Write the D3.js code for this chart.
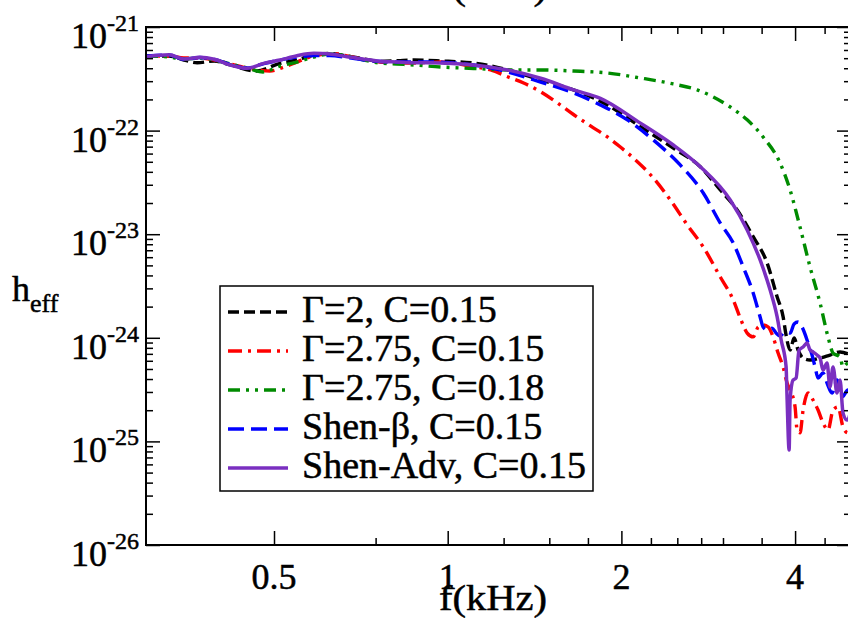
<!DOCTYPE html>
<html><head><meta charset="utf-8">
<script src="https://cdn.jsdelivr.net/npm/d3@7"></script>
<style>
body{margin:0;background:#fff}
svg{display:block}
text{font-family:"Liberation Serif","Times New Roman",serif;fill:#000;stroke:#000;stroke-width:0.5px}
</style>
</head><body>
<svg id="c" width="848" height="619"></svg>
<script>
// ---------- data ----------
const xMajorTicks = [0.5, 1, 2, 4];
const xMinorTicks = [0.75, 1.25, 1.5, 1.75, 2.25, 2.5, 2.75, 3, 3.5, 4.5];
const yDecadeExponents = [-21, -22, -23, -24, -25, -26];
const seriesLabels = ["Γ=2, C=0.15", "Γ=2.75, C=0.15", "Γ=2.75, C=0.18", "Shen-β, C=0.15", "Shen-Adv, C=0.15"];

// [f (kHz), h_eff]
const gamma2_C015 = [[0.30,5.25e-22],[0.329,5.25e-22],[0.349,4.80e-22],[0.368,4.52e-22],[0.394,4.70e-22],[0.420,4.30e-22],[0.466,3.76e-22],[0.512,4.46e-22],[0.548,4.80e-22],[0.586,5.37e-22],[0.625,5.55e-22],[0.669,5.25e-22],[0.716,4.91e-22],[0.763,4.65e-22],[0.873,4.80e-22],[0.973,4.70e-22],[1.109,4.49e-22],[1.270,3.85e-22],[1.449,3.08e-22],[1.652,2.47e-22],[1.891,1.77e-22],[2.158,1.09e-22],[2.460,6.79e-23],[2.740,4.48e-23],[2.968,2.67e-23],[3.175,1.71e-23],[3.384,9.46e-24],[3.578,5.27e-24],[3.723,2.49e-24],[3.813,1.60e-24],[3.859,1.06e-24],[3.921,7.62e-25],[3.984,9.96e-25],[4.048,7.62e-25],[4.130,6.38e-25],[4.246,6.11e-25],[4.419,6.38e-25],[4.598,6.82e-25],[4.786,7.29e-25],[5.0,6.82e-25]];

const gamma275_C015 = [[0.30,5.25e-22],[0.329,5.25e-22],[0.349,5.02e-22],[0.372,5.02e-22],[0.394,4.80e-22],[0.420,4.39e-22],[0.449,4.02e-22],[0.492,3.76e-22],[0.520,4.11e-22],[0.548,4.59e-22],[0.570,5.02e-22],[0.603,5.43e-22],[0.635,5.55e-22],[0.669,5.25e-22],[0.716,4.86e-22],[0.763,4.59e-22],[0.816,4.49e-22],[0.873,4.49e-22],[0.973,4.59e-22],[1.109,4.14e-22],[1.187,3.85e-22],[1.270,3.31e-22],[1.354,2.88e-22],[1.449,2.37e-22],[1.550,1.85e-22],[1.652,1.43e-22],[1.768,1.11e-22],[1.891,8.68e-23],[1.992,6.94e-23],[2.098,5.44e-23],[2.272,3.49e-23],[2.431,2.14e-23],[2.601,1.23e-23],[2.773,7.52e-24],[2.968,3.86e-24],[3.125,2.32e-24],[3.214,1.55e-24],[3.304,1.11e-24],[3.384,1.02e-24],[3.452,1.27e-24],[3.521,1.33e-24],[3.593,1.27e-24],[3.664,1.02e-24],[3.738,7.13e-25],[3.813,5.23e-25],[3.875,3.66e-25],[3.921,3.13e-25],[4.000,2.15e-25],[4.032,1.29e-25],[4.080,1.21e-25],[4.130,2.01e-25],[4.213,2.93e-25],[4.297,2.51e-25],[4.384,2.01e-25],[4.472,1.51e-25],[4.562,1.29e-25],[4.654,2.01e-25],[4.748,2.15e-25],[4.843,1.38e-25],[4.94,1.21e-25],[5.0,1.3e-25]];

const gamma275_C018 = [[0.30,5.25e-22],[0.329,5.13e-22],[0.349,4.91e-22],[0.372,5.02e-22],[0.394,4.80e-22],[0.420,4.39e-22],[0.449,4.02e-22],[0.4785,3.68e-22],[0.512,4.20e-22],[0.548,4.59e-22],[0.586,5.13e-22],[0.625,5.49e-22],[0.669,5.25e-22],[0.716,4.80e-22],[0.763,4.49e-22],[0.816,4.39e-22],[0.873,4.30e-22],[0.973,4.11e-22],[1.109,3.98e-22],[1.270,3.85e-22],[1.449,3.85e-22],[1.652,3.76e-22],[1.891,3.60e-22],[2.158,3.22e-22],[2.460,2.82e-22],[2.707,2.47e-22],[2.886,2.11e-22],[3.088,1.69e-22],[3.304,1.27e-22],[3.521,8.68e-23],[3.767,4.87e-23],[3.921,2.67e-23],[4.080,1.17e-23],[4.246,4.83e-24],[4.419,2.17e-24],[4.562,1.02e-24],[4.654,7.13e-25],[4.786,6.53e-25],[4.843,5.23e-25],[4.94,5.71e-25],[5.0,5.5e-25]];

const shenBeta_C015 = [[0.30,5.25e-22],[0.329,5.37e-22],[0.349,4.86e-22],[0.372,5.08e-22],[0.394,4.86e-22],[0.420,4.35e-22],[0.449,4.02e-22],[0.480,4.44e-22],[0.512,4.80e-22],[0.548,5.13e-22],[0.586,5.31e-22],[0.625,5.31e-22],[0.669,5.08e-22],[0.716,4.80e-22],[0.816,4.59e-22],[0.931,4.59e-22],[1.109,4.30e-22],[1.270,3.68e-22],[1.449,2.94e-22],[1.652,2.31e-22],[1.839,1.77e-22],[2.048,1.27e-22],[2.272,8.12e-23],[2.529,4.66e-23],[2.773,2.50e-23],[2.968,1.28e-23],[3.125,8.23e-24],[3.252,4.83e-24],[3.384,2.71e-24],[3.479,1.59e-24],[3.521,1.27e-24],[3.578,1.19e-24],[3.650,1.24e-24],[3.709,1.11e-24],[3.767,1.04e-24],[3.844,1.14e-24],[3.921,1.11e-24],[3.984,1.36e-24],[4.048,1.42e-24],[4.113,1.27e-24],[4.213,8.91e-25],[4.280,6.82e-25],[4.332,5.23e-25],[4.384,4.09e-25],[4.472,4.57e-25],[4.544,3.66e-25],[4.636,2.93e-25],[4.729,3.91e-25],[4.824,2.68e-25],[4.94,3.13e-25],[5.0,2.8e-25]];

const shenAdv_C015 = [[0.30,5.17e-22],[0.329,5.40e-22],[0.349,4.91e-22],[0.372,5.10e-22],[0.394,4.88e-22],[0.420,4.30e-22],[0.449,3.99e-22],[0.480,4.46e-22],[0.512,4.80e-22],[0.548,5.28e-22],[0.586,5.57e-22],[0.625,5.49e-22],[0.669,5.17e-22],[0.716,4.88e-22],[0.763,4.67e-22],[0.816,4.59e-22],[0.873,4.52e-22],[0.931,4.52e-22],[1.0,4.46e-22],[1.109,4.30e-22],[1.270,3.85e-22],[1.449,3.20e-22],[1.652,2.47e-22],[1.839,2.05e-22],[2.158,1.18e-22],[2.460,7.26e-23],[2.740,4.48e-23],[3.088,2.14e-23],[3.304,1.10e-23],[3.479,5.64e-24],[3.621,2.89e-24],[3.723,1.60e-24],[3.784,9.52e-25],[3.859,5.26e-25],[3.875,2.51e-25],[3.906,8.26e-26],[3.921,2.51e-25],[3.968,3.91e-25],[4.016,4.09e-25],[4.064,7.62e-25],[4.130,8.15e-25],[4.196,8.91e-25],[4.246,7.62e-25],[4.297,7.29e-25],[4.366,6.82e-25],[4.419,6.38e-25],[4.472,4.89e-25],[4.544,5.71e-25],[4.598,3.35e-25],[4.654,5.23e-25],[4.729,2.93e-25],[4.786,3.91e-25],[4.843,1.88e-25],[4.920,1.61e-25],[5.0,2.0e-25]];

// ---------- layout ----------
const L = 146, R = 851, T = 27, B = 545;
const svg = d3.select("#c");

const x = d3.scaleLog().domain([0.3, 5]).range([L, R]);
const y = d3.scaleLog().domain([1e-26, 1e-21]).range([B, T]);

const series = [
  {name: seriesLabels[0], data: gamma2_C015,   color: "#000000", dash: "11,5",         width: 3.4},
  {name: seriesLabels[1], data: gamma275_C015, color: "#ff0000", dash: "14,6,3,6",     width: 3.4},
  {name: seriesLabels[2], data: gamma275_C018, color: "#008b00", dash: "12,6,3,6,3,6", width: 3.4},
  {name: seriesLabels[3], data: shenBeta_C015, color: "#0000ff", dash: "16,7",         width: 3.4},
  {name: seriesLabels[4], data: shenAdv_C015,  color: "#7a2fc0", dash: null,           width: 3.5}
];

svg.append("defs").append("clipPath").attr("id","clip")
  .append("rect").attr("x",L).attr("y",T).attr("width",R-L).attr("height",B-T);

const line = d3.line().x(d => x(d[0])).y(d => y(d[1])).curve(d3.curveMonotoneX);
const gLines = svg.append("g").attr("clip-path","url(#clip)");
series.forEach(s => {
  gLines.append("path").datum(s.data)
    .attr("d", line)
    .attr("fill","none")
    .attr("stroke", s.color)
    .attr("stroke-width", s.width)
    .attr("stroke-dasharray", s.dash)
    .attr("stroke-linejoin","round");
});

const yMinor = [];
yDecadeExponents.slice(1).forEach(e => { for (let k = 2; k <= 9; k++) yMinor.push(k * Math.pow(10, e)); });
const yMajor = yDecadeExponents.map(e => Math.pow(10, e));

function styleAxis(g){ g.select(".domain").remove(); g.selectAll("line").attr("stroke","#000").attr("stroke-width",1.5); g.selectAll("text").remove(); }

svg.append("g").attr("transform",`translate(0,${B})`).call(d3.axisBottom(x).tickValues(xMajorTicks).tickSize(-14).tickFormat("")).call(styleAxis);
svg.append("g").attr("transform",`translate(0,${B})`).call(d3.axisBottom(x).tickValues(xMinorTicks).tickSize(-7).tickFormat("")).call(styleAxis);
svg.append("g").attr("transform",`translate(0,${T})`).call(d3.axisTop(x).tickValues(xMajorTicks).tickSize(-14).tickFormat("")).call(styleAxis);
svg.append("g").attr("transform",`translate(0,${T})`).call(d3.axisTop(x).tickValues(xMinorTicks).tickSize(-7).tickFormat("")).call(styleAxis);
svg.append("g").attr("transform",`translate(${L},0)`).call(d3.axisLeft(y).tickValues(yMajor).tickSize(-14).tickFormat("")).call(styleAxis);
svg.append("g").attr("transform",`translate(${L},0)`).call(d3.axisLeft(y).tickValues(yMinor).tickSize(-7).tickFormat("")).call(styleAxis);
svg.append("g").attr("transform",`translate(${R},0)`).call(d3.axisRight(y).tickValues(yMajor).tickSize(-14).tickFormat("")).call(styleAxis);
svg.append("g").attr("transform",`translate(${R},0)`).call(d3.axisRight(y).tickValues(yMinor).tickSize(-7).tickFormat("")).call(styleAxis);

svg.append("rect").attr("x",L).attr("y",T).attr("width",R-L).attr("height",B-T)
  .attr("fill","none").attr("stroke","#000").attr("stroke-width",2);

xMajorTicks.forEach(v => {
  svg.append("text").attr("x", x(v)).attr("y", B + 44).attr("text-anchor","middle")
    .attr("font-size", 36).text(v);
});
yDecadeExponents.forEach(e => {
  const t = svg.append("text").attr("x", 139).attr("y", y(Math.pow(10,e)) + 21)
    .attr("text-anchor","end").attr("font-size",36);
  t.append("tspan").text("10");
  t.append("tspan").attr("font-size",24).attr("dy",-17).text(String(e));
});

svg.append("text").attr("x", 493).attr("y", 610).attr("text-anchor","middle").attr("font-size",36)
  .attr("textLength",108).attr("lengthAdjust","spacingAndGlyphs").text("f(kHz)");
svg.append("text").attr("x", 493).attr("y", -1).attr("text-anchor","middle").attr("font-size",37)
  .attr("textLength",108).attr("lengthAdjust","spacingAndGlyphs").text("f(kHz)");
const yl = svg.append("text").attr("x", 12).attr("y", 301).attr("font-size",36);
yl.append("tspan").text("h");
yl.append("tspan").attr("font-size",26).attr("dy",11).text("eff");

const lg = svg.append("g");
lg.append("rect").attr("x",220).attr("y",286).attr("width",373).attr("height",205)
  .attr("fill","#fff").attr("stroke","#000").attr("stroke-width",1.5);
series.forEach((s,i) => {
  const yy = 312 + i*39;
  lg.append("line").attr("x1",228).attr("x2",288).attr("y1",yy).attr("y2",yy)
    .attr("stroke",s.color).attr("stroke-width",s.width).attr("stroke-dasharray",s.dash);
  lg.append("text").attr("x",302).attr("y",yy+10).attr("font-size",38).text(s.name);
});
</script>
</body></html>
